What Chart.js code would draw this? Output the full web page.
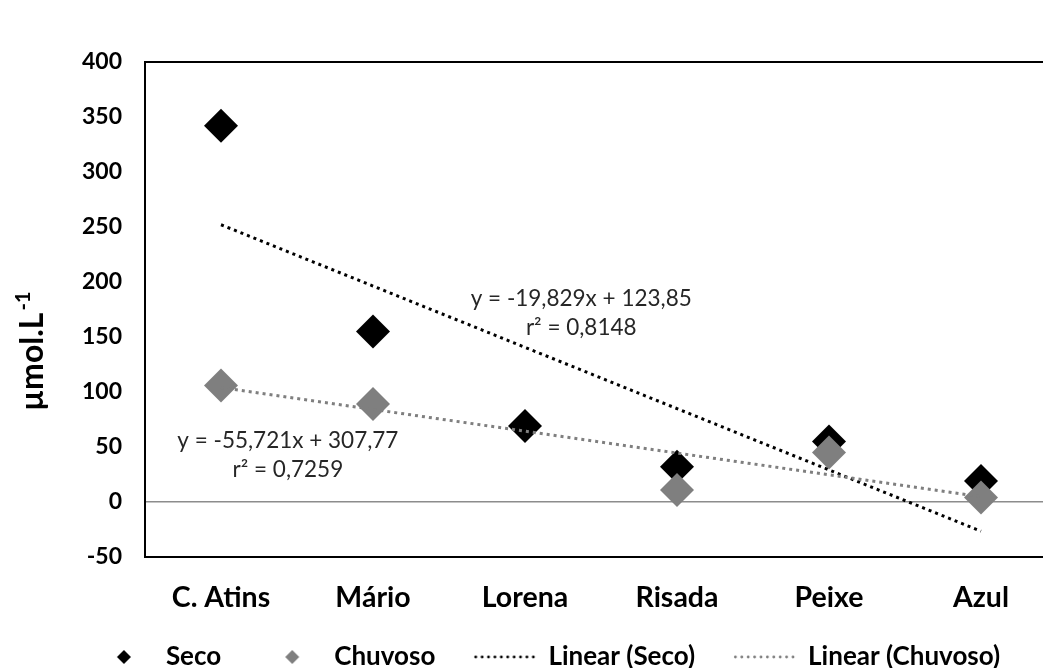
<!DOCTYPE html>
<html>
<head>
<meta charset="utf-8">
<title>µmol.L⁻¹ por local</title>
<script src="https://cdn.jsdelivr.net/npm/chart.js@4/dist/chart.umd.min.js"></script>
<style>
  html, body { margin: 0; padding: 0; background: #fff; overflow: hidden; }
  #wrap { width: 1096px; height: 668px; }
</style>
</head>
<body>
<div id="wrap"><canvas id="chart" width="1096" height="668"></canvas></div>
<script>
// Locais de coleta
const categories = ['C. Atins', 'Mário', 'Lorena', 'Risada', 'Peixe', 'Azul'];

// Concentrações (µmol.L-1) por período
const seco = [342, 155, 69, 32, 55, 19];
const chuvoso = [106, 89, null, 11, 45, 4];

// Coeficientes das linhas de tendência (x = 1..6)
const trendSecoCoef = [-55.721, 307.77];
const trendChuvosoCoef = [-19.829, 123.85];

// Eixo y
const yMin = -50;
const yMax = 400;
const yStep = 50;

// Equações exibidas junto às tendências
const eqUpper = ['y = -19,829x + 123,85', 'r² = 0,8148'];
const eqLower = ['y = -55,721x + 307,77', 'r² = 0,7259'];
const eqUpperAt = [2.37, 185];
const eqLowerAt = [0.44, 56];

const yTitle = 'µmol.L';
const yTitleSup = '-1';

const BLACK = '#000000';
const GRAY = '#7f7f7f';
const FONT = 'Lato, "Open Sans", sans-serif';

const trendLine = (coef) => categories.map((_, i) => coef[0] * (i + 1) + coef[1]);

function diamondIcon(color) {
  const c = document.createElement('canvas');
  c.width = 18; c.height = 18;
  const g = c.getContext('2d');
  g.fillStyle = color;
  g.beginPath();
  g.moveTo(9, 2); g.lineTo(16, 9); g.lineTo(9, 16); g.lineTo(2, 9);
  g.closePath(); g.fill();
  return c;
}
function dottedIcon(color) {
  const c = document.createElement('canvas');
  c.width = 66; c.height = 6;
  const g = c.getContext('2d');
  g.fillStyle = color;
  for (let x = 1; x < 64; x += 6.4) {
    g.beginPath(); g.arc(x + 1.3, 3, 1.4, 0, Math.PI * 2); g.fill();
  }
  return c;
}
const legendIcons = [diamondIcon(BLACK), diamondIcon(GRAY), dottedIcon(BLACK), dottedIcon(GRAY)];

const extras = {
  id: 'extras',
  afterLayout(chart) {
    // legenda centrada sob a figura inteira e um pouco mais próxima dos rótulos
    const lg = chart.legend;
    lg.left += 19; lg.right += 19;
    lg.top -= 13;
  },
  beforeDatasetsDraw(chart) {
    const {ctx, chartArea: a} = chart;
    ctx.save();
    ctx.strokeStyle = BLACK;
    ctx.lineWidth = 2;
    ctx.strokeRect(a.left, a.top, a.right - a.left, a.bottom - a.top);
    ctx.restore();
  },
  afterDraw(chart) {
    const {ctx} = chart;
    const xs = chart.scales.x, ys = chart.scales.y;
    ctx.save();
    ctx.fillStyle = '#262626';
    ctx.font = '22.5px ' + FONT;
    ctx.textAlign = 'center';
    ctx.textBaseline = 'middle';
    [[eqUpper, eqUpperAt], [eqLower, eqLowerAt]].forEach(([lines, at]) => {
      const px = xs.getPixelForValue(at[0]);
      const py = ys.getPixelForValue(at[1]);
      lines.forEach((t, k) => ctx.fillText(t, px, py + k * 29));
    });
    // título do eixo y, lido de baixo para cima
    ctx.fillStyle = BLACK;
    ctx.translate(33, 411);
    ctx.rotate(-Math.PI / 2);
    ctx.textAlign = 'left';
    ctx.font = 'bold 32px ' + FONT;
    ctx.fillText(yTitle, 0, 0);
    const w = ctx.measureText(yTitle).width;
    ctx.font = 'bold 20px ' + FONT;
    ctx.fillText(yTitleSup, w + 2, -9);
    ctx.restore();
  }
};

new Chart(document.getElementById('chart'), {
  type: 'line',
  data: {
    labels: categories,
    datasets: [
      { label: 'Seco', data: seco, showLine: false, pointStyle: 'rectRot',
        pointRadius: 17, pointHoverRadius: 17, pointBackgroundColor: BLACK,
        pointBorderColor: BLACK, pointBorderWidth: 0, borderColor: BLACK, order: 3 },
      { label: 'Chuvoso', data: chuvoso, showLine: false, pointStyle: 'rectRot',
        pointRadius: 17, pointHoverRadius: 17, pointBackgroundColor: GRAY,
        pointBorderColor: GRAY, pointBorderWidth: 0, borderColor: GRAY, order: 2 },
      { label: 'Linear (Seco)', data: trendLine(trendSecoCoef), borderColor: BLACK,
        borderWidth: 3, borderDash: [3, 4], pointRadius: 0, fill: false, order: 1 },
      { label: 'Linear (Chuvoso)', data: trendLine(trendChuvosoCoef), borderColor: GRAY,
        borderWidth: 3, borderDash: [3, 4], pointRadius: 0, fill: false, order: 0 }
    ]
  },
  options: {
    responsive: false,
    animation: false,
    devicePixelRatio: 1,
    layout: { padding: { top: 62, right: 39, bottom: 0, left: 0 } },
    plugins: {
      tooltip: { enabled: false },
      legend: {
        position: 'bottom',
        maxHeight: 53,
        labels: {
          usePointStyle: true,
          pointStyleWidth: 58,
          padding: 42,
          color: BLACK,
          font: { family: FONT, size: 26, weight: 'bold' },
          generateLabels: (chart) => chart.data.datasets.map((ds, i) => ({
            text: ds.label, pointStyle: legendIcons[i], datasetIndex: i,
            hidden: false, fontColor: BLACK, lineWidth: 0,
            strokeStyle: 'transparent', fillStyle: 'transparent'
          }))
        }
      }
    },
    scales: {
      x: {
        offset: true,
        grid: { display: false, drawTicks: false },
        border: { display: false },
        ticks: { padding: 24, color: BLACK, font: { family: FONT, size: 28.5, weight: 'bold' } },
        afterFit: (s) => { s.height = 58; }
      },
      y: {
        min: yMin, max: yMax,
        grid: {
          drawTicks: false,
          lineWidth: 1.5,
          color: (c) => (c.tick && c.tick.value === 0 ? '#8c8c8c' : 'transparent')
        },
        border: { display: false },
        ticks: { stepSize: yStep, padding: 23, color: BLACK,
                 font: { family: FONT, size: 23, weight: 'bold' } },
        afterFit: (s) => { s.width = 145; }
      }
    }
  },
  plugins: [extras]
});
</script>
</body>
</html>
